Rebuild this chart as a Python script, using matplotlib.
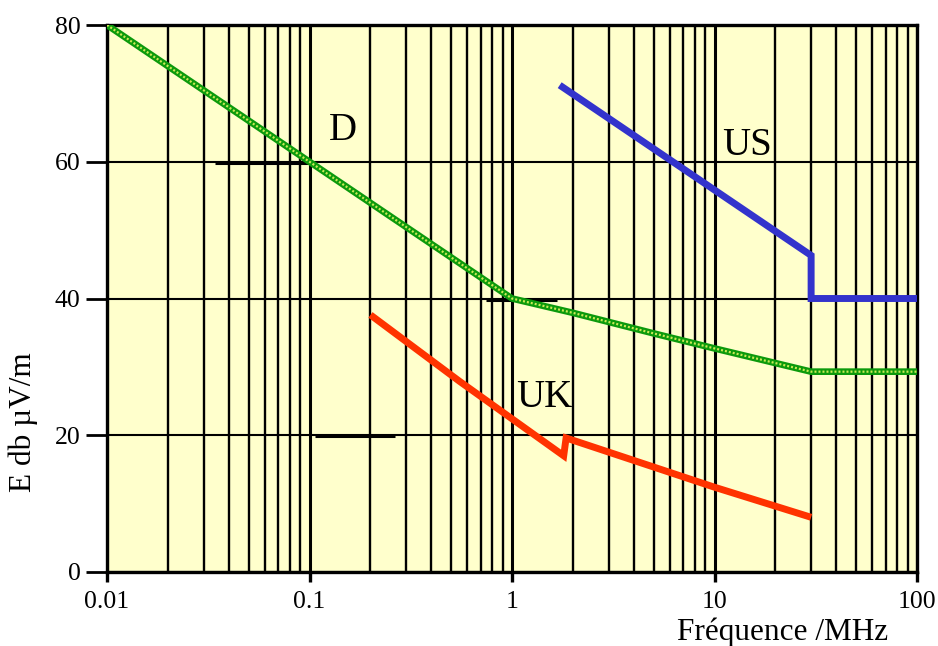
import matplotlib
matplotlib.use("Agg")
import matplotlib.pyplot as plt
from matplotlib.ticker import FixedLocator, FixedFormatter, NullFormatter

# ---- data ----
d_freq = [0.01, 0.1, 1.0, 2.0, 5.0, 10.0, 30.0, 100.0]
d_level = [80.0, 60.0, 40.0, 37.9, 34.9, 32.7, 29.3, 29.3]

us_freq = [1.72, 30.0, 30.0, 100.0]
us_level = [71.2, 46.3, 40.0, 40.0]

uk_freq = [0.2, 0.55, 1.8, 1.85, 10.0, 30.0]
uk_level = [37.6, 27.9, 17.0, 19.6, 12.4, 8.0]

# short overlapping grid segments visible in the original
seg_level = [60.0, 40.0, 20.0]
seg_start = [0.034, 0.74, 0.107]
seg_end = [0.1, 1.66, 0.263]

x_ticks = [0.01, 0.1, 1, 10, 100]
x_labels = ["0.01", "0.1", "1", "10", "100"]
y_ticks = [0, 20, 40, 60, 80]
y_labels = ["0", "20", "40", "60", "80"]

labels = ["D", "US", "UK"]
label_freq = [0.146, 14.5, 1.44]
label_level = [63.2, 61.0, 24.1]

# ---- figure ----
plt.rcParams['font.family'] = ['Liberation Serif', 'DejaVu Serif']
fig = plt.figure(figsize=(9.38, 6.46), dpi=100)
ax = fig.add_axes([107/938, 1-572/646, (917-107)/938, (572-25)/646])
ax.set_facecolor('#FFFFCC')
ax.set_xscale('log')
ax.set_xlim(0.01, 100)
ax.set_ylim(0, 80)

minor = [m * 10.0**e for e in range(-2, 2) for m in range(2, 10)]
ax.xaxis.set_major_locator(FixedLocator(x_ticks))
ax.xaxis.set_major_formatter(FixedFormatter(x_labels))
ax.xaxis.set_minor_locator(FixedLocator(minor))
ax.xaxis.set_minor_formatter(NullFormatter())
ax.yaxis.set_major_locator(FixedLocator(y_ticks))
ax.yaxis.set_major_formatter(FixedFormatter(y_labels))

ax.grid(True, which='major', axis='x', color='black', lw=2.2)
ax.grid(True, which='minor', axis='x', color='black', lw=1.7)
ax.grid(True, which='major', axis='y', color='black', lw=1.5)
ax.set_axisbelow(True)

for s in ax.spines.values():
    s.set_linewidth(2.4)
    s.set_color('black')

ax.tick_params(axis='y', which='major', length=15, width=2.0, pad=4,
               labelsize=18.5, direction='out')
ax.tick_params(axis='x', which='major', length=7, width=2.4, pad=7,
               labelsize=18.5, direction='out')
ax.tick_params(axis='x', which='minor', length=0)

for lv, a, b in zip(seg_level, seg_start, seg_end):
    ax.plot([a, b], [lv - 0.15, lv - 0.15], color='black', lw=2.2, zorder=1.5,
            solid_capstyle='butt')

# curves
ax.plot(d_freq, d_level, color='#0C9A0C', lw=4.8, zorder=3,
        solid_capstyle='butt', solid_joinstyle='round')
ax.plot(d_freq, d_level, color='#CBEA55', lw=1.6, zorder=3.1,
        dashes=(0.9, 0.9))
ax.plot(us_freq, us_level, color='#3333CC', lw=5.0, zorder=3,
        solid_capstyle='butt', solid_joinstyle='miter')
ax.plot(uk_freq, uk_level, color='#FF3300', lw=5.0, zorder=3,
        solid_capstyle='butt', solid_joinstyle='miter')

for t, fx, fy in zip(labels, label_freq, label_level):
    ax.text(fx, fy, t, fontsize=28, ha='center', va='baseline', zorder=4)

fig.text(23/938, 1-422/646, "E db µV/m", rotation=90, ha='center',
         va='center', fontsize=22.5)
fig.text(783/938, 1-632/646, "Fréquence /MHz", ha='center', va='center',
         fontsize=22.5)

fig.savefig("out.png", dpi=100, facecolor='white')
